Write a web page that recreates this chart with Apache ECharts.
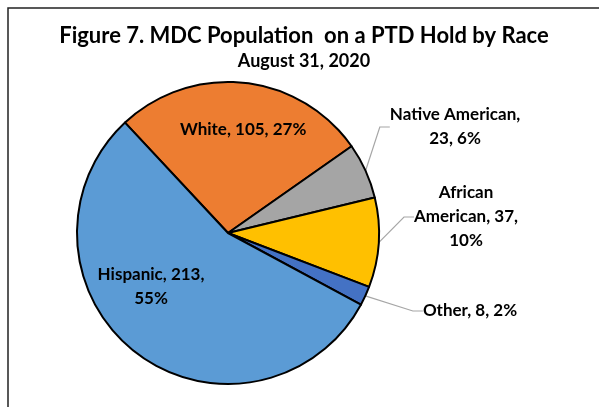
<!DOCTYPE html>
<html><head><meta charset="utf-8">
<script src="https://cdn.jsdelivr.net/npm/echarts@6/dist/echarts.min.js"></script>
<style>html,body{margin:0;padding:0;background:#fff}#c{width:599px;height:407px}</style>
</head><body><div id="c"></div>
<script>
const titleText = 'Figure 7. MDC Population  on a PTD Hold by Race';
const subtitleText = 'August 31, 2020';
const categories = ['White', 'Native American', 'African American', 'Other', 'Hispanic'];
const values = [105, 23, 37, 8, 213];
const colors = ['#ED7D31', '#A5A5A5', '#FFC000', '#4472C4', '#5B9BD5'];
const labelFormats = ['{b}, {c}, {d}%', '{b},\n{c}, {d}%', 'African\nAmerican, {c},\n{d}%', '{b}, {c}, {d}%', '{b}, {c},\n{d}%'];

const FONT = 'Lato';
const insideOffsets = { 0: [7, -25], 4: [-29, -9] };
const outsidePos = { 1: [455, 127], 2: [466, 217], 3: [470, 311] };

const chart = echarts.init(document.getElementById('c'), null, { renderer: 'canvas' });
const data = categories.map((name, i) => {
  const inside = insideOffsets[i] !== undefined;
  return {
    name, value: values[i],
    itemStyle: { color: colors[i] },
    label: inside
      ? { position: 'inside', offset: insideOffsets[i], formatter: labelFormats[i] }
      : { position: 'outside', formatter: labelFormats[i] },
    labelLine: { show: !inside }
  };
});
chart.setOption({
  backgroundColor: '#fff',
  animation: false,
  title: {
    text: titleText, subtext: subtitleText, left: 299, textAlign: 'center', top: 20, itemGap: 5,
    textStyle: { fontFamily: FONT, fontWeight: 'bold', fontSize: 22, color: '#000' },
    subtextStyle: { fontFamily: FONT, fontWeight: 'bold', fontSize: 18, color: '#000' }
  },
  graphic: [{
    type: 'rect', shape: { x: 8, y: 8, width: 800, height: 600 },
    style: { fill: null, stroke: '#222', lineWidth: 1.5 }, silent: true
  }],
  series: [{
    type: 'pie',
    center: [228, 233], radius: 151,
    startAngle: 133, clockwise: true,
    percentPrecision: 0,
    avoidLabelOverlap: false,
    itemStyle: { borderColor: '#000', borderWidth: 2 },
    label: {
      fontFamily: FONT, fontWeight: 'bold', fontSize: 17, color: '#000', lineHeight: 24, align: 'center'
    },
    labelLine: { length: 10, length2: 10, lineStyle: { color: '#A6A6A6', width: 1.2 }, smooth: false },
    labelLayout: function (p) {
      const pos = outsidePos[p.dataIndex];
      if (!pos) return {};
      return { x: pos[0], y: pos[1], align: 'center', verticalAlign: 'middle' };
    },
    data
  }]
});
</script></body></html>
